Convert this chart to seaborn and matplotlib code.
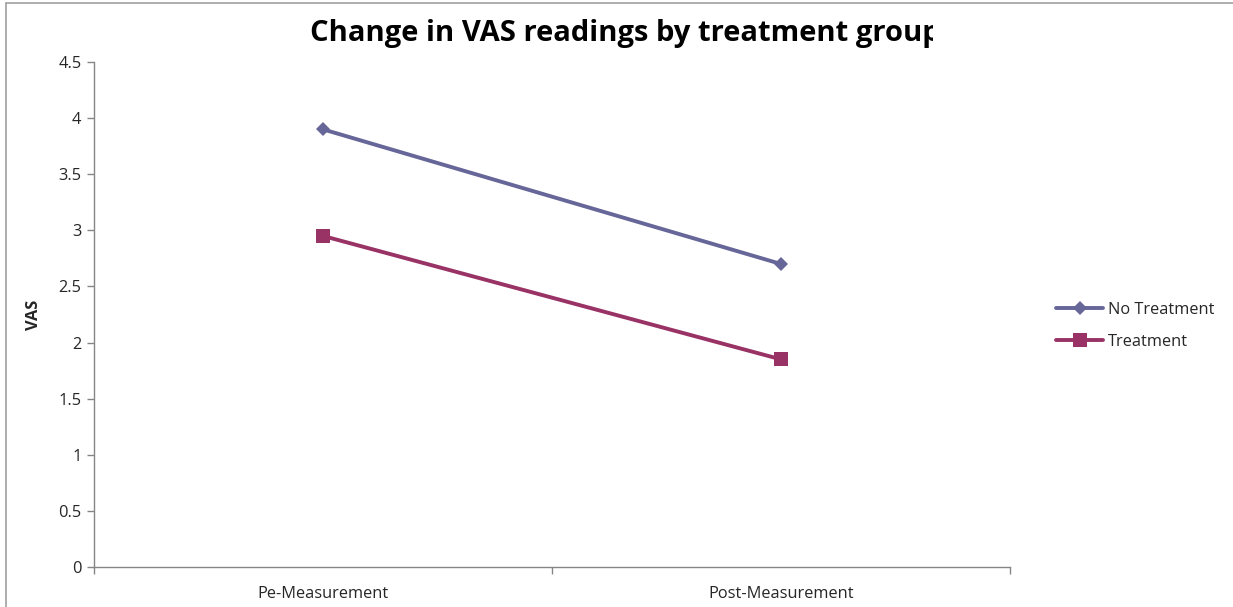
import matplotlib
matplotlib.use("Agg")
import matplotlib.pyplot as plt
import seaborn as sns
import pandas as pd
from matplotlib.transforms import Bbox
from matplotlib.patches import Rectangle

categories = ["Pe-Measurement", "Post-Measurement"]
no_treatment = [3.9, 2.7]
treatment = [2.95, 1.85]
series_names = ["No Treatment", "Treatment"]
y_ticks = [0, 0.5, 1, 1.5, 2, 2.5, 3, 3.5, 4, 4.5]

sns.set_theme(style="white")
plt.rcParams['font.family'] = ['Open Sans', 'DejaVu Sans']

df = pd.DataFrame({
    "Measurement": categories * 2,
    "VAS": no_treatment + treatment,
    "Group": [series_names[0]] * 2 + [series_names[1]] * 2,
})

fig = plt.figure(figsize=(12.33, 6.07), dpi=100)
ax = fig.add_axes([94/1233, 1-567/607, (1010-94)/1233, (567-62)/607])

colors = {"No Treatment": "#666699", "Treatment": "#993366"}
markers = {"No Treatment": "D", "Treatment": "s"}
msizes = {"No Treatment": 7.5, "Treatment": 10.5}
for name in series_names:
    sub = df[df["Group"] == name]
    sns.lineplot(data=sub, x="Measurement", y="VAS", ax=ax, color=colors[name],
                 marker=markers[name], markersize=msizes[name], linewidth=2.8,
                 markeredgewidth=0, label=name, sort=False)

fs = 11.8
ax.set_xlim(-0.5, 1.5)
ax.set_ylim(0, 4.5)
ax.set_yticks(y_ticks)
ax.set_yticklabels([f"{v:g}" for v in y_ticks], fontsize=fs)
ax.set_xticks([0, 1])
ax.set_xticklabels(categories, fontsize=fs)
ax.set_xticks([-0.5, 0.5, 1.5], minor=True)
ax.tick_params(axis="x", which="major", length=0, pad=14)
ax.tick_params(axis="x", which="minor", length=5, width=1, color="#868686", direction="out", bottom=True)
ax.tick_params(axis="y", length=5, width=1, color="#868686", direction="out", left=True, pad=4)
for s in ["top", "right"]:
    ax.spines[s].set_visible(False)
for s in ["left", "bottom"]:
    ax.spines[s].set_color("#868686")
    ax.spines[s].set_linewidth(1)
ax.grid(False)
ax.set_xlabel("")
ax.set_ylabel("VAS", fontsize=fs, fontweight="bold", labelpad=12)

leg = ax.legend(loc="center left", bbox_to_anchor=(1041/1233, 1-326/607),
                bbox_transform=fig.transFigure, frameon=False, fontsize=fs,
                handlelength=2.9, labelspacing=0.95, handletextpad=0.3)

t = fig.text(310/1233, 1-34/607, "Change in VAS readings by treatment group",
             fontsize=21, fontweight="bold", ha="left", va="center", color="black")
t.set_clip_box(Bbox.from_extents(0, 0, 933, 607))
t.set_clip_on(True)

fig.patches.append(Rectangle((6/1233, -0.5), 2, 1 - 3/607 + 0.5, transform=fig.transFigure,
                             fill=False, edgecolor="#a0a0a0", linewidth=1.2))

fig.savefig("out.png", dpi=100)
